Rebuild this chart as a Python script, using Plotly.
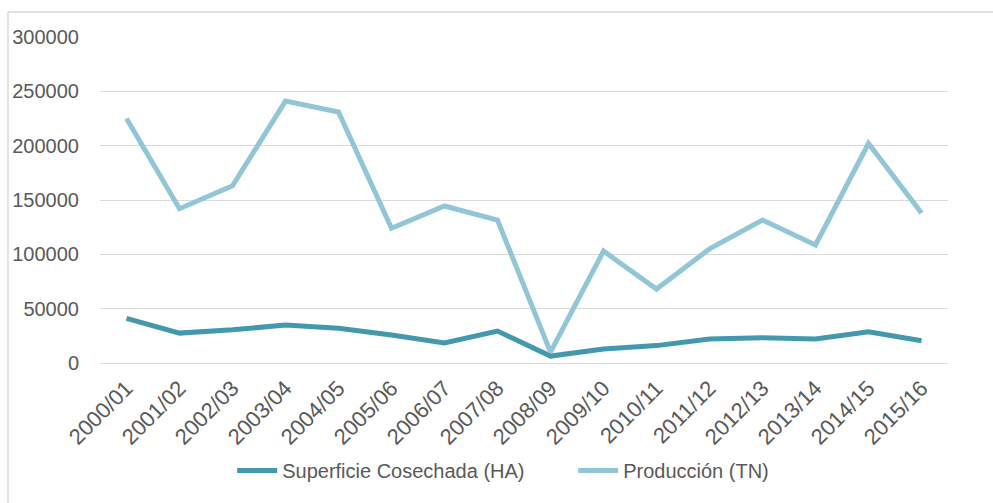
import plotly.graph_objects as go

categories = ["2000/01", "2001/02", "2002/03", "2003/04", "2004/05", "2005/06", "2006/07",
              "2007/08", "2008/09", "2009/10", "2010/11", "2011/12", "2012/13", "2013/14",
              "2014/15", "2015/16"]
superficie = [41000, 27500, 30500, 35000, 32000, 25800, 18400, 29400, 6400, 12900, 16000,
              22000, 23300, 22000, 28800, 20500]
produccion = [225000, 142000, 163000, 241000, 231000, 124000, 144500, 131600, 10000, 103000,
              68000, 105000, 131600, 108600, 202000, 138000]
y_ticks = [0, 50000, 100000, 150000, 200000, 250000, 300000]

fig = go.Figure()
fig.add_trace(go.Scatter(x=categories, y=superficie, mode="lines", name="Superficie Cosechada (HA)",
                         line=dict(color="#4398AE", width=5)))
fig.add_trace(go.Scatter(x=categories, y=produccion, mode="lines", name="Producción (TN)",
                         line=dict(color="#92C5D6", width=5)))

fam = "Liberation Sans, Arial, sans-serif"
font = dict(family=fam, size=20, color="#595959")
fig.update_layout(
    width=993, height=503,
    margin=dict(l=100, r=45, t=37, b=140),
    paper_bgcolor="white", plot_bgcolor="white",
    font=font,
    showlegend=True,
    legend=dict(orientation="h", x=0.558, xanchor="center", y=-0.33, yanchor="middle",
                font=font, itemwidth=40, entrywidth=286),
    xaxis=dict(type="category", tickangle=-45, showgrid=False, showline=False, ticks="",
               tickfont=dict(family=fam, size=22, color="#595959"), ticklabelstandoff=7,
               range=[-0.5, len(categories) - 0.5]),
    yaxis=dict(range=[0, 300000], tickvals=y_ticks, ticktext=[str(v) for v in y_ticks],
               showgrid=True, gridcolor="#d9d9d9", gridwidth=1, zeroline=True,
               zerolinecolor="#d9d9d9", zerolinewidth=1, ticks="", tickfont=font,
               ticklabelstandoff=20),
    shapes=[
        dict(type="line", xref="paper", yref="paper", x0=-0.1085, x1=1.06, y0=1.0767, y1=1.0767,
             line=dict(color="#d9d9d9", width=1.5)),
        dict(type="line", xref="paper", yref="paper", x0=-0.1085, x1=-0.1085, y0=1.0767, y1=-0.44,
             line=dict(color="#d9d9d9", width=1.5)),
    ],
)
fig.write_html("out.html", post_script="document.body.style.margin='0px';",
               config={"displayModeBar": False})
